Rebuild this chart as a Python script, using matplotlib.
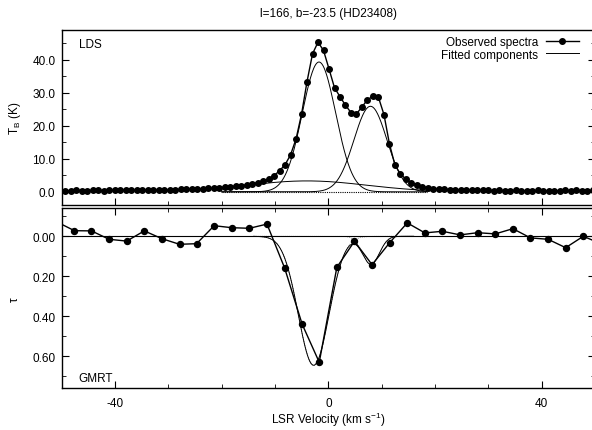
import numpy as np
import matplotlib
matplotlib.use("Agg")
import matplotlib.pyplot as plt
from matplotlib.ticker import MultipleLocator, FormatStrFormatter

plt.rcParams['font.family'] = ['Liberation Sans', 'DejaVu Sans']
plt.rcParams['mathtext.fontset'] = 'custom'
plt.rcParams['mathtext.rm'] = 'Liberation Sans'
plt.rcParams['mathtext.it'] = 'Liberation Sans:italic'
plt.rcParams['mathtext.default'] = 'rm'
plt.rcParams['axes.unicode_minus'] = False

# LDS emission spectrum (channel velocity in km/s, brightness temperature in K)
lds_vel = [
    -49.31, -48.28, -47.25, -46.22, -45.19, -44.16, -43.13, -42.10, -41.07, -40.04,
    -39.01, -37.98, -36.95, -35.92, -34.89, -33.86, -32.83, -31.80, -30.77, -29.74,
    -28.71, -27.68, -26.65, -25.62, -24.59, -23.56, -22.53, -21.50, -20.47, -19.44,
    -18.41, -17.38, -16.35, -15.32, -14.29, -13.26, -12.23, -11.20, -10.17, -9.14,
    -8.11, -7.08, -6.05, -5.02, -3.99, -2.96, -1.93, -0.90, 0.13, 1.16,
    2.19, 3.22, 4.25, 5.28, 6.31, 7.34, 8.37, 9.40, 10.43, 11.46,
    12.49, 13.52, 14.55, 15.58, 16.61, 17.64, 18.67, 19.70, 20.73, 21.76,
    22.79, 23.82, 24.85, 25.88, 26.91, 27.94, 28.97, 30.00, 31.03, 32.06,
    33.09, 34.12, 35.15, 36.18, 37.21, 38.24, 39.27, 40.30, 41.33, 42.36,
    43.39, 44.42, 45.45, 46.48, 47.51, 48.54, 49.57]
lds_tb = [
    0.35, 0.30, 0.40, 0.35, 0.30, 0.40, 0.45, 0.35, 0.40, 0.45,
    0.40, 0.50, 0.45, 0.40, 0.50, 0.55, 0.50, 0.55, 0.60, 0.55,
    0.65, 0.70, 0.70, 0.80, 0.85, 0.95, 1.05, 1.15, 1.30, 1.40,
    1.55, 1.70, 1.85, 2.10, 2.40, 2.80, 3.20, 3.90, 4.90, 6.40,
    8.20, 11.2, 16.0, 23.5, 33.4, 41.8, 45.3, 42.8, 37.2, 31.5,
    28.8, 26.2, 24.0, 23.6, 25.7, 27.9, 28.9, 28.6, 23.4, 14.5,
    8.1, 5.4, 3.8, 2.8, 2.0, 1.6, 1.25, 1.0, 0.85, 0.75,
    0.65, 0.60, 0.55, 0.50, 0.50, 0.45, 0.40, 0.45, 0.35, 0.40,
    0.30, 0.35, 0.40, 0.30, 0.35, 0.30, 0.40, 0.35, 0.30, 0.35,
    0.30, 0.40, 0.35, 0.45, 0.35, 0.30, 0.40]

# fitted gaussian components of the emission (amplitude K, centre km/s, sigma km/s)
tb_amp = [39.3, 25.9, 3.3]
tb_cen = [-1.75, 7.9, -4.0]
tb_sig = [3.13, 3.1, 11.2]
tb_fit_range = (-20.0, 18.5)

# GMRT absorption spectrum
gmrt_vel = [-50.9, -47.6, -44.4, -41.1, -37.8, -34.5, -31.2, -27.9, -24.7, -21.4,
            -18.1, -14.8, -11.5, -8.2, -4.9, -1.7, 1.6, 4.9, 8.2, 11.5,
            14.8, 18.1, 21.4, 24.7, 28.0, 31.3, 34.6, 37.9, 41.2, 44.5,
            47.8, 51.1]
gmrt_tau = [-0.072, -0.028, -0.027, 0.015, 0.024, -0.027, 0.012, 0.040, 0.037, -0.053,
            -0.043, -0.040, -0.061, 0.158, 0.440, 0.630, 0.155, 0.025, 0.142, 0.032,
            -0.067, -0.017, -0.025, -0.007, -0.018, -0.012, -0.038, 0.008, 0.015, 0.057,
            0.000, 0.037]

# fitted gaussian components of the absorption
tau_amp = [0.645, 0.14]
tau_cen = [-2.75, 8.0]
tau_sig = [2.88, 1.57]
tau_fit_range = (-14.0, 16.0)


def gauss(v, a, c, s):
    return a * np.exp(-(v - c) ** 2 / (2.0 * s ** 2))


fig = plt.figure(figsize=(5.92, 4.31), dpi=100)
ax1 = fig.add_axes([0.1041, 0.5220, 0.9010, 0.4061])
ax2 = fig.add_axes([0.1041, 0.0968, 0.9010, 0.4176])

# top panel
obs, = ax1.plot(lds_vel, lds_tb, '-o', color='black', lw=1.0, ms=4,
                label='Observed spectra', zorder=3)
vfit = np.linspace(tb_fit_range[0], tb_fit_range[1], 400)
for a, c, s in zip(tb_amp, tb_cen, tb_sig):
    fitl, = ax1.plot(vfit, gauss(vfit, a, c, s), color='black', lw=0.7,
                     label='Fitted components')
ax1.hlines(0, tb_fit_range[0], tb_fit_range[1], colors='black', lw=0.8,
           linestyles=(0, (1, 1)))

ax1.set_xlim(-50, 50)
ax1.set_ylim(-4.0, 49.0)
ax1.yaxis.set_major_locator(MultipleLocator(10))
ax1.yaxis.set_minor_locator(MultipleLocator(5))
ax1.yaxis.set_major_formatter(FormatStrFormatter('%.1f'))
ax1.xaxis.set_major_locator(MultipleLocator(40))
ax1.xaxis.set_minor_locator(MultipleLocator(10))
ax1.tick_params(which='both', direction='in', top=False, right=True,
                labelbottom=False, labelsize=8.5, pad=4.5)
ax1.tick_params(which='major', length=5)
ax1.tick_params(which='minor', length=3)
ax1.set_ylabel('T$_B$ (K)', fontsize=8.5, va='center')
ax1.yaxis.set_label_coords(-0.088, 0.5)
ax1.text(0.033, 0.92, 'LDS', transform=ax1.transAxes, fontsize=8.5, va='center')
ax1.set_title('l=166, b=-23.5 (HD23408)', fontsize=8.5, pad=10)
ax1.legend(handles=[obs, fitl], loc='upper right', bbox_to_anchor=(0.970, 0.966),
           frameon=False, markerfirst=False, numpoints=1, fontsize=8.5,
           handlelength=2.8, handletextpad=0.68, labelspacing=0.05,
           borderpad=0, borderaxespad=0)

# bottom panel
ax2.axhline(0, color='black', lw=0.8)
vtau = np.linspace(tau_fit_range[0], tau_fit_range[1], 600)
parts = [gauss(vtau, a, c, s) for a, c, s in zip(tau_amp, tau_cen, tau_sig)]
for p in parts:
    ax2.plot(vtau, p, color='black', lw=0.6, ls=(0, (1, 1.5)), alpha=0.6)
ax2.plot(vtau, np.sum(parts, axis=0), color='black', lw=0.7)
ax2.plot(gmrt_vel, gmrt_tau, '-o', color='black', lw=1.0, ms=4.3, zorder=3)

ax2.set_xlim(-50, 50)
ax2.set_ylim(0.76, -0.14)
ax2.yaxis.set_major_locator(MultipleLocator(0.2))
ax2.yaxis.set_minor_locator(MultipleLocator(0.1))
ax2.yaxis.set_major_formatter(FormatStrFormatter('%.2f'))
ax2.xaxis.set_major_locator(MultipleLocator(40))
ax2.xaxis.set_minor_locator(MultipleLocator(10))
ax2.tick_params(which='both', direction='in', top=True, right=True,
                labelsize=8.5)
ax2.tick_params(axis='y', pad=4.5)
ax2.tick_params(axis='x', pad=6)
ax2.tick_params(which='major', length=5)
ax2.tick_params(which='minor', length=3)
ax2.set_ylabel('τ', fontsize=8.5, va='center')
ax2.yaxis.set_label_coords(-0.088, 0.5)
ax2.set_xlabel('LSR Velocity (km s$^{-1}$)', fontsize=8.5, va='center')
ax2.xaxis.set_label_coords(0.5, -0.17)
ax2.text(0.031, 0.057, 'GMRT', transform=ax2.transAxes, fontsize=8.5, va='center')

for ax in (ax1, ax2):
    for sp in ax.spines.values():
        sp.set_linewidth(1.0)

fig.savefig('out.png', dpi=100)
